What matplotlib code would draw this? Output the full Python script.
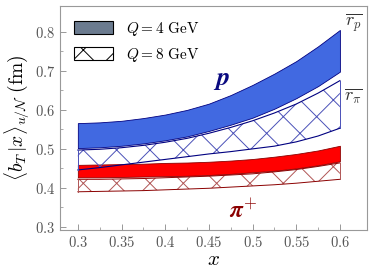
import matplotlib
matplotlib.use('Agg')
import matplotlib.pyplot as plt
from matplotlib.patches import Patch

plt.rcParams['mathtext.fontset'] = 'cm'
plt.rcParams['font.family'] = 'serif'
plt.rcParams['font.serif'] = ['cmr10', 'DejaVu Serif']
plt.rcParams['axes.formatter.use_mathtext'] = True
plt.rcParams['hatch.linewidth'] = 0.7

# x grid and band edges
x = [0.300, 0.325, 0.350, 0.375, 0.400, 0.425, 0.450,
     0.475, 0.500, 0.525, 0.550, 0.575, 0.600]

p_q4_hi = [0.566, 0.568, 0.572, 0.579, 0.588, 0.600, 0.616,
           0.638, 0.664, 0.693, 0.725, 0.763, 0.805]
p_q4_lo = [0.502, 0.504, 0.508, 0.514, 0.522, 0.532, 0.546,
           0.562, 0.580, 0.603, 0.630, 0.661, 0.698]
p_q8_hi = [0.497, 0.499, 0.503, 0.509, 0.517, 0.527, 0.540,
           0.555, 0.572, 0.592, 0.615, 0.643, 0.675]
p_q8_lo = [0.446, 0.452, 0.459, 0.466, 0.473, 0.480, 0.487,
           0.493, 0.500, 0.507, 0.518, 0.533, 0.553]

pi_q4_hi = [0.459, 0.460, 0.461, 0.462, 0.464, 0.465, 0.467,
            0.470, 0.474, 0.480, 0.487, 0.496, 0.508]
pi_q4_lo = [0.427, 0.427, 0.428, 0.429, 0.430, 0.431, 0.433,
            0.436, 0.440, 0.444, 0.450, 0.458, 0.468]
pi_q8_hi = [0.422, 0.422, 0.423, 0.424, 0.426, 0.428, 0.430,
            0.433, 0.436, 0.441, 0.447, 0.455, 0.464]
pi_q8_lo = [0.390, 0.391, 0.392, 0.393, 0.395, 0.397, 0.399,
            0.402, 0.405, 0.408, 0.412, 0.417, 0.422]

r_p = 0.846
r_pi = 0.662

fig = plt.figure(figsize=(3.74, 2.80), dpi=100)
ax = fig.add_axes([0.160, 0.179, 0.821, 0.800])

# pion bands
ax.fill_between(x, pi_q4_lo, pi_q4_hi, facecolor='#ff0000', edgecolor='#8b0000', lw=0.6)
ax.fill_between(x, pi_q8_lo, pi_q8_hi, facecolor='none', edgecolor='#b05555', hatch='x', lw=0)
ax.plot(x, pi_q8_hi, color='#8b0000', lw=0.7)
ax.plot(x, pi_q8_lo, color='#8b0000', lw=0.7)
ax.plot([x[0], x[0]], [pi_q8_lo[0], pi_q8_hi[0]], color='#b05555', lw=0.7)
ax.plot([x[-1], x[-1]], [pi_q8_lo[-1], pi_q8_hi[-1]], color='#b05555', lw=0.7)

# proton bands
ax.fill_between(x, p_q8_lo, p_q8_hi, facecolor='none', edgecolor='#4a50b8', hatch='x', lw=0)
ax.plot(x, p_q8_hi, color='#000080', lw=0.8)
ax.plot(x, p_q8_lo, color='#000080', lw=0.8)
ax.plot([x[0], x[0]], [p_q8_lo[0], p_q8_hi[0]], color='#4a50b8', lw=0.7)
ax.plot([x[-1], x[-1]], [p_q8_lo[-1], p_q8_hi[-1]], color='#4a50b8', lw=0.7)
ax.fill_between(x, p_q4_lo, p_q4_hi, facecolor='#4169e1', edgecolor='#000080', lw=0.6)

# labels in the plot
ax.text(0.464, 0.677, r'$\boldsymbol{p}$', color='#0a0a80', fontsize=19,
        ha='center', va='center')
ax.text(0.489, 0.340, r'$\boldsymbol{\pi}^{+}$', color='#8b0000', fontsize=17,
        ha='center', va='center')
ax.text(0.6155, r_p - 0.024, r'$\overline{r_p}$', fontsize=13, ha='center', va='center', color='#333333')
ax.text(0.6155, r_pi - 0.026, r'$\overline{r_\pi}$', fontsize=13, ha='center', va='center', color='#333333')

ax.set_xlim(0.2794, 0.6309)
ax.set_ylim(0.2923, 0.8667)
ax.set_xticks([0.3, 0.35, 0.4, 0.45, 0.5, 0.55, 0.6])
ax.set_xticklabels(['$0.3$', '$0.35$', '$0.4$', '$0.45$', '$0.5$', '$0.55$', '$0.6$'])
ax.set_xticks([0.325, 0.375, 0.425, 0.475, 0.525, 0.575], minor=True)
ax.set_yticks([0.3, 0.4, 0.5, 0.6, 0.7, 0.8])
ax.set_yticklabels(['$0.3$', '$0.4$', '$0.5$', '$0.6$', '$0.7$', '$0.8$'])
ax.set_yticks([0.35, 0.45, 0.55, 0.65, 0.75], minor=True)
ax.tick_params(which='both', direction='in', colors='#888888', labelcolor='#555555',
               labelsize=10.5, top=False, right=False)
ax.tick_params(which='major', length=4, width=0.6)
ax.tick_params(which='minor', length=2.5, width=0.5)
for s in ax.spines.values():
    s.set_color('#999999')
    s.set_linewidth(0.8)

ax.set_xlabel(r'$x$', fontsize=15, labelpad=1)
ax.set_ylabel(r'$\langle b_T\,|x\rangle_{u/\mathcal{N}}\ (\mathrm{fm})$', fontsize=14, labelpad=2)

handles = [Patch(facecolor='#6b7b8f', edgecolor='black', lw=0.8),
           Patch(facecolor='white', edgecolor='black', hatch='x', lw=0.8)]
ax.legend(handles, [r'$Q = 4\ \mathrm{GeV}$', r'$Q = 8\ \mathrm{GeV}$'],
          loc='upper left', frameon=False, fontsize=11, handlelength=2.6,
          handleheight=0.9, borderaxespad=0.5, labelspacing=0.55)

fig.savefig('out.png', dpi=100)
